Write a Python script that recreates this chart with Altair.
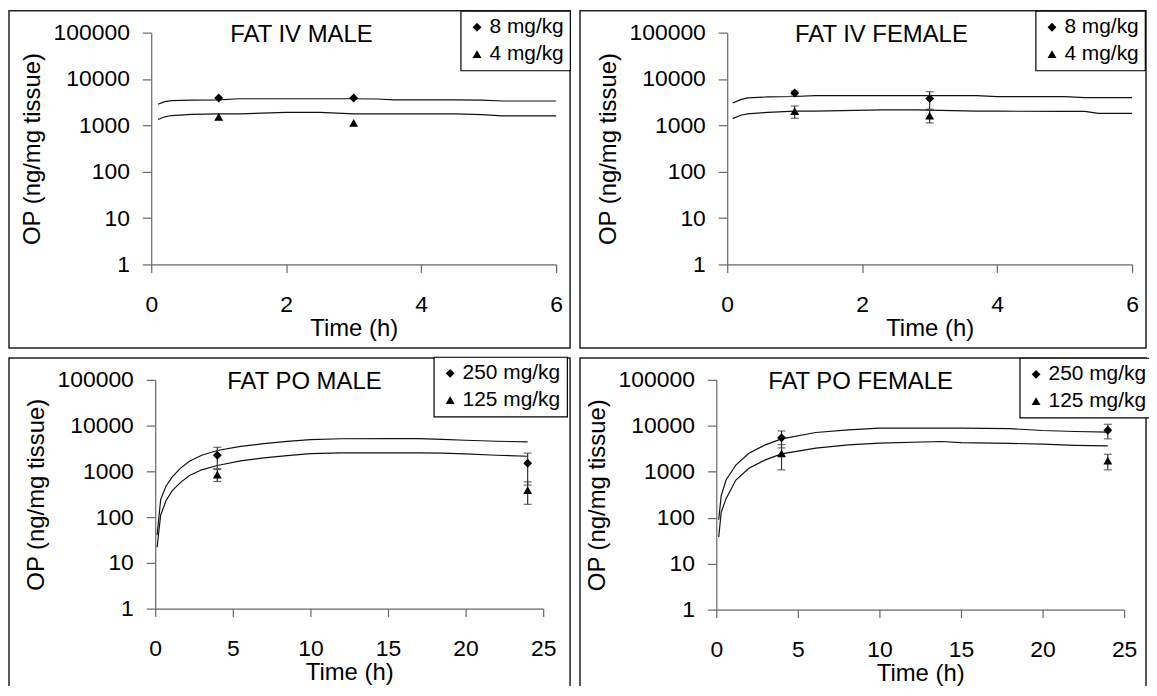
import altair as alt
import pandas as pd

FONT = "Liberation Sans"

# ---------------- data ----------------
# Panel 1: FAT IV MALE
p1_doses = ["8 mg/kg", "4 mg/kg"]
p1_line_t = [0.1, 0.2, 0.3, 0.6, 1.0, 1.3, 2.0, 2.5, 3.0, 3.35, 3.6, 4.5, 4.9, 5.2, 6.0]
p1_line_a = [2850, 3250, 3420, 3500, 3550, 3750, 3750, 3750, 3750, 3700, 3550, 3550, 3500, 3350, 3350]
p1_line_b = [1340, 1530, 1630, 1720, 1770, 1770, 1900, 1900, 1770, 1770, 1770, 1770, 1700, 1600, 1600]
p1_pt_t = [1, 3]
p1_pt_a = [3900, 3900]
p1_pt_b = [1520, 1130]
p1_err_a = [0, 0]
p1_err_b = [0, 0]

# Panel 2: FAT IV FEMALE
p2_doses = ["8 mg/kg", "4 mg/kg"]
p2_line_t = [0.08, 0.2, 0.3, 0.6, 1.0, 1.3, 2.3, 2.8, 3.7, 4.0, 5.0, 5.3, 5.5, 6.0]
p2_line_a = [3040, 3600, 3900, 4100, 4200, 4380, 4380, 4380, 4380, 4170, 4170, 3950, 3950, 3950]
p2_line_b = [1400, 1650, 1770, 1900, 2020, 2020, 2150, 2150, 2020, 2020, 2000, 2000, 1820, 1820]
p2_pt_t = [1, 3]
p2_pt_a = [5000, 3780]
p2_pt_b = [2020, 1630]
p2_err_a = [500, 1550]
p2_err_b = [600, 500]

# Panel 3: FAT PO MALE
p3_doses = ["250 mg/kg", "125 mg/kg"]
p3_line_t = [0.12, 0.35, 0.7, 1.1, 1.6, 2.2, 3, 4, 5.5, 7, 8.5, 10, 12, 15, 17, 18.5, 20, 22, 24]
p3_line_a = [40, 242, 480, 760, 1150, 1660, 2250, 2850, 3500, 4050, 4500, 4950, 5150, 5200, 5200, 5000, 4780, 4550, 4400]
p3_line_b = [22, 110, 230, 380, 560, 810, 1080, 1340, 1700, 1970, 2200, 2450, 2530, 2530, 2530, 2500, 2410, 2250, 2140]
p3_pt_t = [4, 24]
p3_pt_a = [2250, 1500]
p3_pt_b = [850, 390]
p3_err_a = [1100, 1000]
p3_err_b = [250, 200]

# Panel 4: FAT PO FEMALE
p4_doses = ["250 mg/kg", "125 mg/kg"]
p4_line_t = [0.15, 0.3, 0.6, 1.2, 2, 3, 4, 6.1, 8.1, 10, 13.8, 15, 18, 20, 22, 24]
p4_line_a = [90, 300, 660, 1400, 2530, 3850, 5200, 7150, 8180, 8900, 8900, 8900, 8650, 7900, 7500, 7280]
p4_line_b = [38, 130, 260, 660, 1190, 1810, 2450, 3260, 3850, 4190, 4550, 4300, 4150, 3980, 3750, 3660]
p4_pt_t = [4, 24]
p4_pt_a = [5500, 8000]
p4_pt_b = [2500, 1750]
p4_err_a = [2200, 2800]
p4_err_b = [1400, 650]

Y_TICKS = [1, 10, 100, 1000, 10000, 100000]

W, H = 1147, 678  # whole drawing area (one view holding the four framed panels)


def panel(title, doses, line_t, line_a, line_b, pt_t, pt_a, pt_b, err_a, err_b,
          xmax, xticks, xr, yr, frame, legend_xy, title_xy):
    line_df = pd.DataFrame({
        "t": list(line_t) * 2,
        "v": list(line_a) + list(line_b),
        "dose": [doses[0]] * len(line_t) + [doses[1]] * len(line_t),
    })
    pts = pd.DataFrame({
        "t": list(pt_t) * 2,
        "v": list(pt_a) + list(pt_b),
        "err": list(err_a) + list(err_b),
        "dose": [doses[0]] * len(pt_t) + [doses[1]] * len(pt_t),
    })
    pts["lo"] = pts["v"] - pts["err"]
    pts["hi"] = pts["v"] + pts["err"]
    bars = pts[pts["err"] > 0]
    caps = pd.concat([
        bars[["t", "lo"]].rename(columns={"lo": "y"}),
        bars[["t", "hi"]].rename(columns={"hi": "y"}),
    ])

    xs = alt.Scale(domain=[0, xmax], nice=False, zero=False, range=list(xr))
    ys = alt.Scale(type="log", domain=[1, 100000], nice=False, range=list(yr))
    xax = alt.Axis(values=xticks, format="d", title="Time (h)", labelFlush=False,
                   labelOverlap=False, orient="bottom", offset=yr[0] - H)
    yax = alt.Axis(values=Y_TICKS, format="d", title="OP (ng/mg tissue)",
                   labelOverlap=False, orient="left", offset=-xr[0])

    def X(f):
        return alt.X(f, scale=xs, axis=xax)

    def Y(f):
        return alt.Y(f, scale=ys, axis=yax)

    lines = alt.Chart(line_df).mark_line(color="#111", strokeWidth=1.2).encode(
        x=X("t:Q"), y=Y("v:Q"), detail="dose:N")
    layers = [lines]
    if len(bars):
        rules = alt.Chart(bars).mark_rule(color="#333", strokeWidth=1.2).encode(
            x=X("t:Q"), y=Y("lo:Q"), y2="hi:Q")
        capl = alt.Chart(caps).mark_tick(orient="horizontal", size=8, thickness=1.2,
                                         color="#333").encode(x=X("t:Q"), y=Y("y:Q"))
        layers += [rules, capl]

    points = alt.Chart(pts).mark_point(filled=True, color="black", size=80, opacity=1).encode(
        x=X("t:Q"), y=Y("v:Q"),
        shape=alt.Shape("dose:N",
                        scale=alt.Scale(domain=doses, range=["diamond", "triangle-up"]),
                        legend=alt.Legend(title=None, orient="none",
                                          legendX=legend_xy[0], legendY=legend_xy[1],
                                          strokeColor="black", fillColor="white",
                                          padding=6, rowPadding=5, labelOffset=2,
                                          labelFont=FONT, labelFontSize=21, labelColor="black",
                                          symbolSize=80, symbolFillColor="black",
                                          symbolStrokeColor="black")),
    )
    layers.append(points)
    data_layer = alt.layer(*layers)

    one = alt.Data(values=[{"k": 1}])
    fx1, fy1, fx2, fy2 = frame
    frame_l = alt.Chart(one).mark_rect(fillOpacity=0, stroke="#222", strokeWidth=1.5).encode(
        x=alt.value(fx1), x2=alt.value(fx2), y=alt.value(fy1), y2=alt.value(fy2))
    ttl = alt.Chart(one).mark_text(text=title, font=FONT, fontSize=24, align="center",
                                   baseline="middle", color="black").encode(
        x=alt.value(title_xy[0]), y=alt.value(title_xy[1]))
    return frame_l, data_layer, ttl


parts = [
    panel("FAT IV MALE", p1_doses, p1_line_t, p1_line_a, p1_line_b, p1_pt_t, p1_pt_a, p1_pt_b,
          p1_err_a, p1_err_b, 6, [0, 2, 4, 6], (144, 551), (256, 23),
          (1, 1, 565, 340), (455, 1), (295, 25)),
    panel("FAT IV FEMALE", p2_doses, p2_line_t, p2_line_a, p2_line_b, p2_pt_t, p2_pt_a, p2_pt_b,
          p2_err_a, p2_err_b, 6, [0, 2, 4, 6], (723, 1130), (256, 23),
          (575, 1, 1144, 340), (1033, 1), (878, 25)),
    panel("FAT PO MALE", p3_doses, p3_line_t, p3_line_a, p3_line_b, p3_pt_t, p3_pt_a, p3_pt_b,
          p3_err_a, p3_err_b, 25, [0, 5, 10, 15, 20, 25], (148, 538), (602, 372),
          (1, 350, 565, 700), (428, 349), (298, 374)),
    panel("FAT PO FEMALE", p4_doses, p4_line_t, p4_line_a, p4_line_b, p4_pt_t, p4_pt_a, p4_pt_b,
          p4_err_a, p4_err_b, 25, [0, 5, 10, 15, 20, 25], (712, 1122), (603, 372),
          (575, 350, 1144, 700), (1017, 350), (857, 374)),
]

frames = [p[0] for p in parts]
datas = [p[1] for p in parts]
titles = [p[2] for p in parts]

chart = alt.layer(*frames, *datas, *titles).resolve_scale(
    x="independent", y="independent", shape="independent"
).resolve_axis(x="independent", y="independent").resolve_legend(
    shape="independent"
).properties(
    width=W, height=H, autosize=alt.AutoSizeParams(type="none"),
    padding={"left": 0, "top": 0, "right": 0, "bottom": 0}, background="white"
).configure_axis(
    labelFont=FONT, labelFontSize=23, titleFont=FONT, titleFontSize=24, titleFontWeight="normal",
    labelColor="black", titleColor="black", domainColor="#666", tickColor="#666",
    domainWidth=1.2, tickWidth=1.2, tickSize=8, grid=False,
).configure_axisX(labelPadding=21, titlePadding=0).configure_axisY(
    labelPadding=13, titlePadding=9, tickSize=9
).configure_legend(strokeWidth=1.2).configure_view(strokeWidth=0)

chart.save("out.html", embed_options={"renderer": "svg", "actions": False})
